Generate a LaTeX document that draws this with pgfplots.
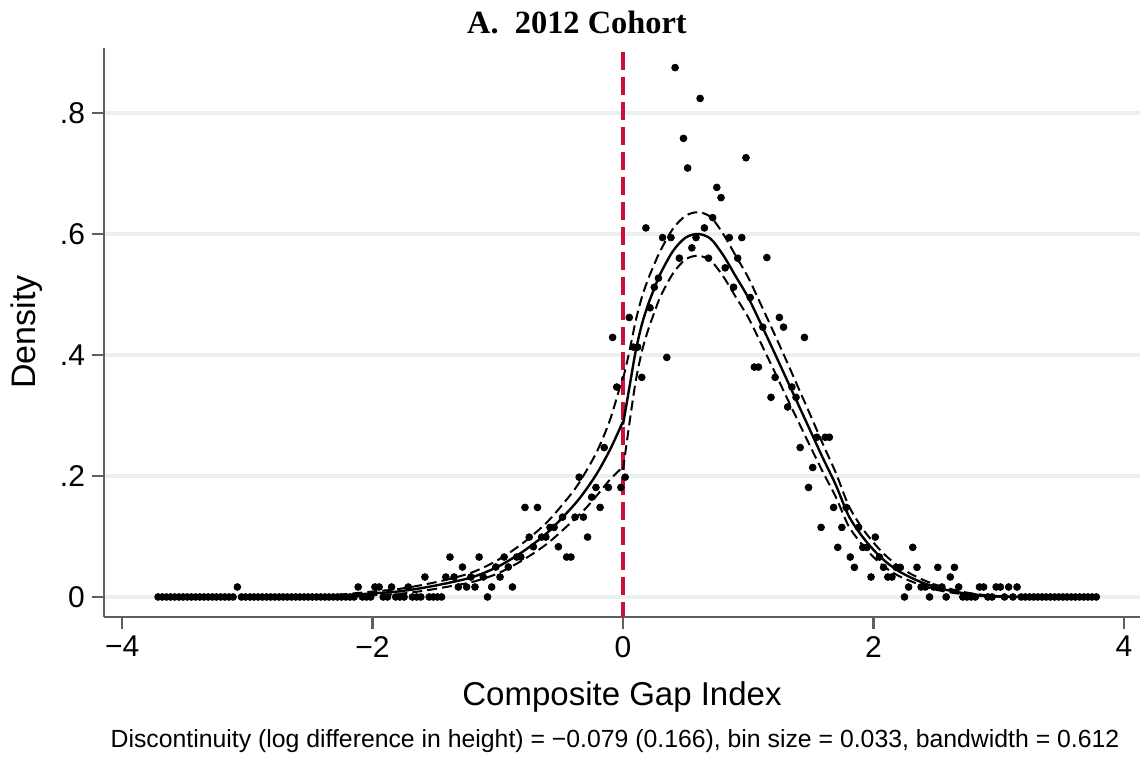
\documentclass[border=0pt]{standalone}
\usepackage{pgfplots}
\pgfplotsset{compat=1.18}
\usepackage{fontspec}
\setmainfont{Liberation Sans}
\newfontfamily\titlefont{Liberation Serif}
\definecolor{axisgray}{RGB}{95,95,95}
\definecolor{gridcol}{RGB}{232,240,242}
\definecolor{redline}{RGB}{200,16,58}
\begin{document}
\begin{tikzpicture}
\path[use as bounding box] (-52pt,-72pt) rectangle (518pt,308.5pt);
\begin{axis}[
  at={(0,0)}, anchor=south west,
  scale only axis, width=518pt, height=284.5pt,
  xmin=-4.145, xmax=4.129, ymin=-0.0331, ymax=0.9074,
  axis lines=left,
  axis line style={-, draw=axisgray, line width=1.1pt},
  xtick={-4,-2,0,2,4}, xticklabels={−4,−2,0,2,4},
  ytick={0,0.2,0.4,0.6,0.8}, yticklabels={0,.2,.4,.6,.8},
  tick align=outside, major tick length=6pt,
  tick style={draw=axisgray, line width=1.1pt},
  ymajorgrids, grid style={draw=gridcol, line width=1.6pt},
  ticklabel style={font=\fontsize{15}{18}\selectfont},
  clip=false,
]
% cutoff line
\addplot[draw=redline, line width=1.8pt, dash pattern=on 9pt off 3.5pt] coordinates {(0,0.900) (0,-0.0331)};
% binned density (scatter)
\addplot[only marks, mark=*, mark size=1.7pt, black] coordinates {
(-3.713,0) (-3.680,0) (-3.646,0) (-3.613,0) (-3.580,0) (-3.546,0) (-3.513,0) (-3.480,0) (-3.447,0) (-3.413,0)
(-3.380,0) (-3.347,0) (-3.313,0) (-3.280,0) (-3.247,0) (-3.213,0) (-3.180,0) (-3.147,0) (-3.114,0) (-3.080,0.0165)
(-3.047,0) (-3.014,0) (-2.980,0) (-2.947,0) (-2.914,0) (-2.880,0) (-2.847,0) (-2.814,0) (-2.781,0) (-2.747,0)
(-2.714,0) (-2.681,0) (-2.647,0) (-2.614,0) (-2.581,0) (-2.547,0) (-2.514,0) (-2.481,0) (-2.448,0) (-2.414,0)
(-2.381,0) (-2.348,0) (-2.314,0) (-2.281,0) (-2.248,0) (-2.214,0) (-2.181,0) (-2.148,0) (-2.115,0.0165) (-2.081,0)
(-2.048,0) (-2.015,0) (-1.981,0.0165) (-1.948,0.0165) (-1.915,0) (-1.881,0) (-1.848,0.0165) (-1.815,0) (-1.782,0) (-1.748,0)
(-1.715,0.0165) (-1.682,0) (-1.648,0) (-1.615,0) (-1.582,0.033) (-1.548,0) (-1.515,0) (-1.482,0) (-1.449,0) (-1.415,0.033)
(-1.382,0.066) (-1.349,0.033) (-1.315,0.0165) (-1.282,0.0495) (-1.249,0.0165) (-1.215,0.033) (-1.182,0.0165) (-1.149,0.066) (-1.116,0.033) (-1.082,0)
(-1.049,0.0165) (-1.016,0.0495) (-0.982,0.033) (-0.949,0.066) (-0.916,0.0495) (-0.883,0.0165) (-0.849,0.066) (-0.816,0.066) (-0.783,0.148) (-0.749,0.099)
(-0.716,0.083) (-0.683,0.148) (-0.650,0.099) (-0.616,0.099) (-0.583,0.115) (-0.550,0.115) (-0.516,0.083) (-0.483,0.132) (-0.450,0.066) (-0.416,0.066)
(-0.383,0.132) (-0.350,0.198) (-0.316,0.132) (-0.283,0.099) (-0.250,0.165) (-0.216,0.181) (-0.183,0.148) (-0.150,0.247) (-0.117,0.181) (-0.083,0.429)
(-0.050,0.347) (-0.017,0.181)
(0.017,0.198) (0.050,0.462) (0.083,0.413) (0.117,0.413) (0.150,0.363) (0.183,0.610) (0.216,0.478) (0.250,0.512) (0.283,0.527) (0.316,0.594)
(0.350,0.396) (0.383,0.594) (0.416,0.875) (0.450,0.560) (0.483,0.758) (0.516,0.709) (0.550,0.577) (0.583,0.594) (0.616,0.824) (0.650,0.610)
(0.683,0.560) (0.716,0.627) (0.749,0.677) (0.783,0.660) (0.816,0.544) (0.849,0.594) (0.883,0.512) (0.916,0.560) (0.949,0.594) (0.982,0.726)
(1.016,0.495) (1.049,0.380) (1.082,0.380) (1.116,0.446) (1.149,0.561) (1.182,0.330) (1.215,0.363) (1.249,0.462) (1.282,0.446) (1.315,0.314)
(1.349,0.347) (1.382,0.330) (1.415,0.247) (1.449,0.429) (1.482,0.181) (1.515,0.214) (1.548,0.264) (1.582,0.115) (1.615,0.264) (1.648,0.264)
(1.682,0.148) (1.715,0.082) (1.748,0.115) (1.782,0.148) (1.815,0.066) (1.848,0.049) (1.881,0.115) (1.915,0.082) (1.948,0.082) (1.981,0.033)
(2.015,0.099) (2.048,0.066) (2.081,0.049) (2.115,0.033) (2.148,0.033) (2.181,0.049) (2.214,0.049) (2.248,0) (2.281,0.0165) (2.314,0.082)
(2.348,0.049) (2.381,0.0165) (2.414,0.0165) (2.448,0) (2.481,0.0165) (2.514,0.049) (2.547,0.0165) (2.581,0) (2.614,0.033) (2.647,0.049)
(2.681,0.0165) (2.714,0) (2.747,0) (2.781,0) (2.814,0) (2.847,0.0165) (2.880,0.0165) (2.914,0) (2.947,0) (2.980,0.0165)
(3.014,0.0165) (3.047,0) (3.080,0.0165) (3.114,0) (3.147,0.0165) (3.180,0) (3.213,0) (3.247,0) (3.280,0) (3.313,0)
(3.347,0) (3.380,0) (3.413,0) (3.447,0) (3.480,0) (3.513,0) (3.546,0) (3.580,0) (3.613,0) (3.646,0)
(3.680,0) (3.713,0) (3.746,0) (3.780,0)
};
% left fit
\addplot[black, line width=1.2pt, smooth] coordinates {
(-2.4,0.001) (-2.2,0.003) (-2.0,0.006) (-1.8,0.009) (-1.6,0.015) (-1.4,0.023) (-1.2,0.033) (-1.0,0.050)
(-0.8,0.075) (-0.6,0.107) (-0.4,0.150) (-0.3,0.176) (-0.2,0.207) (-0.1,0.245) (0,0.290)};
\addplot[black, line width=1.0pt, dash pattern=on 5pt off 2.5pt, smooth] coordinates {
(-2.4,0.002) (-2.2,0.005) (-2.0,0.009) (-1.8,0.013) (-1.6,0.020) (-1.4,0.029) (-1.2,0.041) (-1.0,0.061)
(-0.8,0.089) (-0.6,0.125) (-0.4,0.174) (-0.3,0.206) (-0.2,0.244) (-0.1,0.295) (0,0.365)};
\addplot[black, line width=1.0pt, dash pattern=on 5pt off 2.5pt, smooth] coordinates {
(-2.4,0.000) (-2.2,0.001) (-2.0,0.003) (-1.8,0.005) (-1.6,0.010) (-1.4,0.017) (-1.2,0.025) (-1.0,0.039)
(-0.8,0.061) (-0.6,0.089) (-0.4,0.126) (-0.3,0.146) (-0.2,0.170) (-0.1,0.195) (0,0.215)};
% right fit
\addplot[black, line width=1.2pt, smooth] coordinates {
(0,0.285) (0.05,0.345) (0.1,0.405) (0.15,0.450) (0.2,0.483) (0.25,0.510) (0.3,0.535) (0.4,0.572) (0.5,0.594)
(0.6,0.600) (0.7,0.592) (0.8,0.565) (0.9,0.530) (1.0,0.495) (1.1,0.452) (1.2,0.408) (1.3,0.363) (1.4,0.318)
(1.5,0.273) (1.6,0.228) (1.7,0.185) (1.8,0.135) (1.9,0.103) (2.0,0.078) (2.1,0.058) (2.2,0.043) (2.3,0.032)
(2.4,0.023) (2.5,0.016) (2.6,0.011) (2.7,0.007) (2.8,0.004) (2.9,0.002) (3.0,0.001) (3.1,0.0005) (3.2,0)};
\addplot[black, line width=1.0pt, dash pattern=on 5pt off 2.5pt, smooth] coordinates {
(0,0.360) (0.05,0.405) (0.1,0.455) (0.15,0.495) (0.2,0.525) (0.25,0.550) (0.3,0.573) (0.4,0.609) (0.5,0.630)
(0.6,0.636) (0.7,0.628) (0.8,0.600) (0.9,0.564) (1.0,0.528) (1.1,0.484) (1.2,0.439) (1.3,0.393) (1.4,0.346)
(1.5,0.299) (1.6,0.251) (1.7,0.205) (1.8,0.152) (1.9,0.117) (2.0,0.090) (2.1,0.068) (2.2,0.051) (2.3,0.038)
(2.4,0.028) (2.5,0.020) (2.6,0.014) (2.7,0.009) (2.8,0.0055) (2.9,0.003) (3.0,0.0015) (3.1,0.0005) (3.2,0)};
\addplot[black, line width=1.0pt, dash pattern=on 5pt off 2.5pt, smooth] coordinates {
(0,0.210) (0.05,0.285) (0.1,0.355) (0.15,0.405) (0.2,0.441) (0.25,0.470) (0.3,0.497) (0.4,0.535) (0.5,0.558)
(0.6,0.564) (0.7,0.556) (0.8,0.530) (0.9,0.496) (1.0,0.462) (1.1,0.420) (1.2,0.377) (1.3,0.333) (1.4,0.290)
(1.5,0.247) (1.6,0.205) (1.7,0.165) (1.8,0.118) (1.9,0.089) (2.0,0.066) (2.1,0.048) (2.2,0.035) (2.3,0.026)
(2.4,0.018) (2.5,0.012) (2.6,0.008) (2.7,0.005) (2.8,0.0025) (2.9,0.001) (3.0,0.0005) (3.1,0) (3.2,0)};
\end{axis}
\node[font=\titlefont\bfseries\fontsize{16.2}{19}\selectfont] at (236.5pt,297.5pt) {A.\enspace 2012 Cohort};
\node[font=\fontsize{16.5}{20}\selectfont] at (259pt,-40pt) {Composite Gap Index};
\node[font=\fontsize{12.4}{15}\selectfont] at (255.5pt,-62pt) {Discontinuity (log difference in height) = −0.079 (0.166), bin size = 0.033, bandwidth = 0.612};
\node[rotate=90, font=\fontsize{17}{20}\selectfont] at (-38.5pt,142.5pt) {Density};
\end{tikzpicture}
\end{document}
